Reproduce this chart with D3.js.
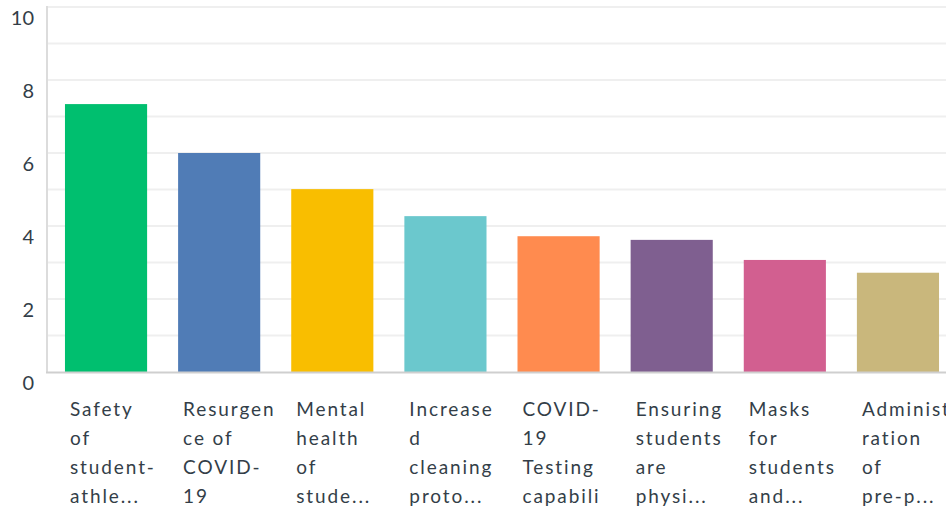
<!DOCTYPE html>
<html>
<head>
<meta charset="utf-8">
<script src="https://cdn.jsdelivr.net/npm/d3@7"></script>
<style>
  body { margin: 0; background: #fff; }
  svg { display: block; }
</style>
</head>
<body>
<div id="chart"></div>
<script>
// values
const categories = [
  "Safety of student-athletes",
  "Resurgence of COVID-19",
  "Mental health of students",
  "Increased cleaning protocols",
  "COVID-19 Testing capabilities",
  "Ensuring students are physically",
  "Masks for students and",
  "Administration of pre-participation"
];
const values = [7.34, 6.0, 5.01, 4.27, 3.72, 3.62, 3.07, 2.72];
const tickLabels = [
  ["Safety", "of", "student-", "athle..."],
  ["Resurgen", "ce of", "COVID-", "19"],
  ["Mental", "health", "of", "stude..."],
  ["Increase", "d", "cleaning", "proto..."],
  ["COVID-", "19", "Testing", "capabili"],
  ["Ensuring", "students", "are", "physi..."],
  ["Masks", "for", "students", "and..."],
  ["Administ", "ration", "of", "pre-p..."]
];
const colors = ["#00bf6f", "#507cb6", "#f9be00", "#6bc8cd", "#ff8b4f", "#7f5f90", "#d25f90", "#c9b77c"];

const width = 946, height = 510;
const margin = {top: 7, left: 48, bottom: 138};

const svg = d3.select("#chart").append("svg")
    .attr("width", width)
    .attr("height", height);

// the plot runs a little past the right edge, as in the original
const x = d3.scaleBand()
    .domain(categories)
    .range([margin.left, 956])
    .paddingInner(0.274)
    .paddingOuter(0.15);

const y = d3.scaleLinear()
    .domain([0, 10])
    .range([height - margin.bottom, margin.top]);

// gridlines, one per unit
svg.append("g")
    .selectAll("line")
    .data(d3.range(1, 11))
    .enter()
    .append("line")
    .attr("x1", margin.left)
    .attr("x2", width)
    .attr("y1", d => y(d))
    .attr("y2", d => y(d))
    .attr("stroke", "#efefef")
    .attr("stroke-width", 2);

// left axis line
svg.append("line")
    .attr("x1", margin.left - 1).attr("x2", margin.left - 1)
    .attr("y1", y(10) - 1).attr("y2", y(0))
    .attr("stroke", "#dcdcdc")
    .attr("stroke-width", 2);

// y labels sit just below their gridline
svg.append("g")
    .selectAll("text")
    .data(d3.range(0, 11, 2))
    .enter()
    .append("text")
    .attr("x", 34)
    .attr("y", d => y(d) + 18)
    .attr("text-anchor", "end")
    .attr("font-family", "Lato, 'Noto Sans', sans-serif")
    .attr("font-size", 20)
    .attr("fill", "#333e48")
    .text(d => d);

// bars
svg.append("g")
    .selectAll("rect")
    .data(values)
    .enter()
    .append("rect")
    .attr("x", (d, i) => x(categories[i]))
    .attr("y", d => y(d))
    .attr("width", x.bandwidth())
    .attr("height", d => y(0) - y(d))
    .attr("fill", (d, i) => colors[i]);

// bottom axis line
svg.append("line")
    .attr("x1", margin.left - 2).attr("x2", width)
    .attr("y1", y(0) + 0.5).attr("y2", y(0) + 0.5)
    .attr("stroke", "#cfcfcf")
    .attr("stroke-width", 2);

// wrapped category labels
const labels = svg.append("g")
    .selectAll("text")
    .data(categories)
    .enter()
    .append("text")
    .attr("x", d => x(d) + 5)
    .attr("y", 416)
    .attr("font-family", "Lato, 'Noto Sans', sans-serif")
    .attr("font-size", 19)
    .attr("letter-spacing", 1.9)
    .attr("fill", "#333e48");

labels.selectAll("tspan")
    .data((d, i) => tickLabels[i])
    .enter()
    .append("tspan")
    .attr("x", function () { return d3.select(this.parentNode).attr("x"); })
    .attr("dy", (d, i) => i === 0 ? 0 : 29)
    .text(d => d);
</script>
</body>
</html>
